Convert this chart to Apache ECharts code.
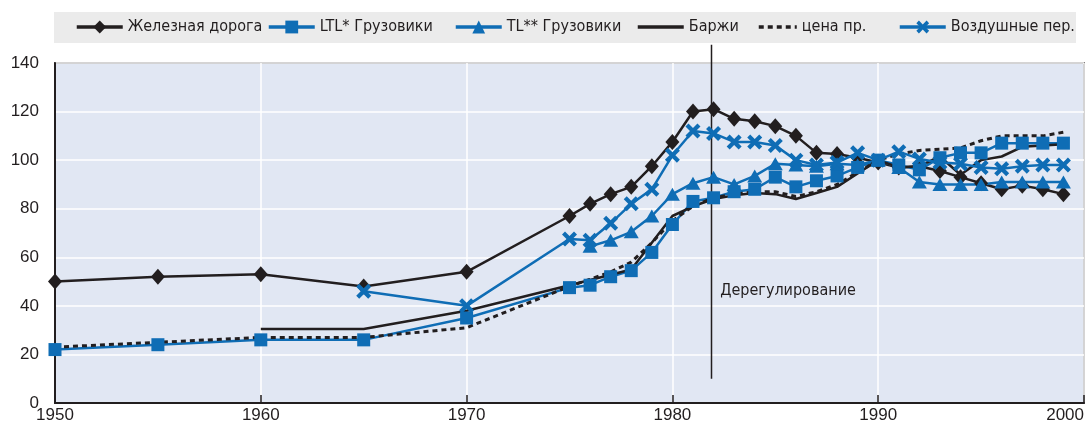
<!DOCTYPE html>
<html>
<head>
<meta charset="utf-8">
<script src="https://cdn.jsdelivr.net/npm/echarts@6/dist/echarts.min.js"></script>
<style>
  html, body { margin: 0; padding: 0; background: #fff; }
  #chart { width: 1087px; height: 429px; }
</style>
</head>
<body>
<div id="chart"></div>
<script>
// data
var yearsLong = [1950, 1955, 1960, 1965, 1970, 1975, 1976, 1977, 1978, 1979, 1980, 1981, 1982, 1983, 1984,
  1985, 1986, 1987, 1988, 1989, 1990, 1991, 1992, 1993, 1994, 1995, 1996, 1997, 1998, 1999];
var rail = [50, 52, 53, 48, 54, 77, 82, 86, 89, 97.5, 107.5, 120, 121, 117, 116,
  114, 110, 103, 102.5, 101, 99, 97, 97.5, 95.5, 93, 90.5, 88, 89.5, 88, 86];
var ltl = [22, 24, 26, 26, 35, 47.5, 48.5, 52, 54.5, 62, 73.5, 83, 84.5, 87, 88,
  93, 89, 91.5, 93.5, 97, 100, 98, 96, 101, 103, 103, 107, 107, 107, 107];
var price = [23, 25, 27, 27, 31, 48, 51, 54, 58, 66, 75, 81, 84.5, 86, 87,
  87, 85, 87, 90, 95, 100, 102.5, 104, 104.5, 105, 108, 110, 110, 110, 111.5];

var tlYears = [1976, 1977, 1978, 1979, 1980, 1981, 1982, 1983, 1984, 1985, 1986, 1987, 1988, 1989,
  1990, 1991, 1992, 1993, 1994, 1995, 1996, 1997, 1998, 1999];
var tl = [64.5, 67, 70.5, 77, 86, 90.5, 93, 90, 93.5, 98.5, 98, 97.5, 98.5, 98,
  100, 97, 91, 90, 90, 90, 91, 91, 91, 91];

var bargeYears = [1960, 1965, 1970, 1975, 1978, 1980, 1981, 1982, 1983, 1984, 1985, 1986, 1987, 1988,
  1989, 1990, 1991, 1992, 1993, 1994, 1995, 1996, 1997, 1998, 1999];
var barges = [30.5, 30.5, 38, 48.5, 55, 77, 81, 84, 85.5, 86.5, 86, 84, 86.5, 89,
  94.5, 100, 97, 97.5, 101.5, 94, 100, 101.5, 105.5, 106, 106.5];

var airYears = [1965, 1970, 1975, 1976, 1977, 1978, 1979, 1980, 1981, 1982, 1983, 1984, 1985, 1986,
  1987, 1988, 1989, 1990, 1991, 1992, 1993, 1994, 1995, 1996, 1997, 1998, 1999];
var air = [46, 40, 67.5, 67, 74, 82, 88, 102, 112, 111, 107.5, 107.5, 106, 100,
  98, 99, 103, 100, 103.5, 100.5, 99, 98.5, 97, 96.5, 97.5, 98, 98];

var deregYear = 1981.9;
var deregSpan = [10, 147.5];

var names = ['Железная дорога', 'LTL* Грузовики', 'TL** Грузовики', 'Баржи', 'цена пр.', 'Воздушные пер.'];
var legendLeft = [75, 267, 454, 636, 757, 898];

var BLUE = '#0f6db5';
var BLACK = '#221e1f';
var FONT = 'Liberation Sans Narrow, DejaVu Sans Condensed, sans-serif';
var xPath = 'path://M0,2 L2,0 L5,3 L8,0 L10,2 L7,5 L10,8 L8,10 L5,7 L2,10 L0,8 L3,5 Z';

function pairs(xs, ys) {
  return xs.map(function (x, i) { return [x, ys[i]]; });
}

var myChart = echarts.init(document.getElementById('chart'));

var legends = names.map(function (n, i) {
  var noMarker = (i === 3 || i === 4);
  var lg = {
    data: [n],
    left: legendLeft[i],
    top: 19,
    itemWidth: i === 4 ? 38 : 46,
    itemHeight: 16,
    itemGap: 5,
    padding: 0,
    lineStyle: { width: 3.5 },
    textStyle: { fontFamily: FONT, fontSize: 16, color: BLACK }
  };
  if (noMarker) lg.itemStyle = { opacity: 0 };
  return lg;
});

var option = {
  animation: false,
  graphic: [{
    type: 'rect',
    left: 54, top: 12,
    shape: { width: 1022, height: 31 },
    style: { fill: '#ebebeb' },
    z: -1
  }],
  legend: legends,
  grid: {
    left: 55, right: 0, top: 63, bottom: 26,
    show: true,
    backgroundColor: '#e1e7f3',
    borderColor: BLACK,
    borderWidth: 1.5
  },
  xAxis: {
    type: 'value',
    min: 1950, max: 2000, interval: 10,
    axisLine: { lineStyle: { color: BLACK, width: 2 } },
    axisTick: { inside: true, length: 8, lineStyle: { color: BLACK, width: 1.5 } },
    axisLabel: {
      color: BLACK, fontSize: 17, fontFamily: 'Liberation Sans, sans-serif', margin: 4,
      alignMaxLabel: 'right',
      formatter: function (v) { return String(v); }
    },
    splitLine: { lineStyle: { color: '#ffffff', width: 1.5 } }
  },
  yAxis: {
    type: 'value',
    min: 0, max: 140, interval: 20,
    axisLine: { show: true, lineStyle: { color: BLACK, width: 2 } },
    axisTick: { show: false },
    axisLabel: { color: BLACK, fontSize: 17, fontFamily: 'Liberation Sans, sans-serif', margin: 16 },
    splitLine: { lineStyle: { color: '#ffffff', width: 1.5 } }
  },
  series: [
    {
      name: names[0], type: 'line', data: pairs(yearsLong, rail),
      symbol: 'diamond', symbolSize: [14, 16],
      lineStyle: { color: BLACK, width: 2.5 }, itemStyle: { color: BLACK }
    },
    {
      name: names[1], type: 'line', data: pairs(yearsLong, ltl),
      symbol: 'rect', symbolSize: 13,
      lineStyle: { color: BLUE, width: 2.5 }, itemStyle: { color: BLUE }
    },
    {
      name: names[2], type: 'line', data: pairs(tlYears, tl),
      symbol: 'triangle', symbolSize: [15, 13],
      lineStyle: { color: BLUE, width: 2.5 }, itemStyle: { color: BLUE }
    },
    {
      name: names[3], type: 'line', data: pairs(bargeYears, barges),
      symbol: 'none',
      lineStyle: { color: BLACK, width: 2.5 }, itemStyle: { color: BLACK }
    },
    {
      name: names[4], type: 'line', data: pairs(yearsLong, price),
      symbol: 'none',
      lineStyle: { color: BLACK, width: 3, type: [5, 4] }, itemStyle: { color: BLACK }
    },
    {
      name: names[5], type: 'line', data: pairs(airYears, air),
      symbol: xPath, symbolSize: 15,
      lineStyle: { color: BLUE, width: 2.5 }, itemStyle: { color: BLUE }
    },
    {
      name: 'dereg', type: 'line', clip: false, silent: true,
      data: [[deregYear, deregSpan[0]], [deregYear, deregSpan[1]]],
      symbol: 'none',
      lineStyle: { color: BLACK, width: 1.5 },
      markPoint: {
        symbol: 'circle', symbolSize: 1,
        itemStyle: { color: 'transparent' },
        label: { show: true, position: 'right', distance: 0, formatter: 'Дерегулирование',
          color: BLACK, fontFamily: FONT, fontSize: 16 },
        data: [{ coord: [1982.3, 46] }]
      }
    }
  ]
};

myChart.setOption(option);
window.onresize = function () { myChart.resize(); };
</script>
</body>
</html>
